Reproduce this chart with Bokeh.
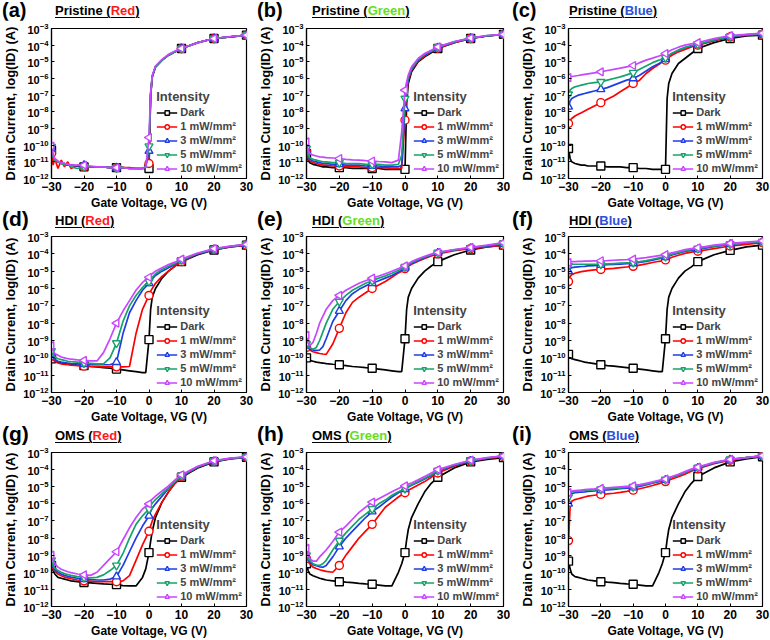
import numpy as np
from bokeh.plotting import figure
from bokeh.models import Range1d, FixedTicker, Legend, LegendItem, Div
from bokeh.layouts import column, row
from bokeh.embed import file_html
from bokeh.resources import INLINE

# ---------------- data ----------------
VG = [-30, -29.5, -29, -28, -27, -26, -25, -24,
      -22, -20, -18, -16, -14, -12, -10, -8,
      -6, -4, -2, -1, 0, 0.5, 1, 2,
      4, 6, 8, 10, 15, 20, 25, 30]
MARKER_VG = [-30, -20, -10, 0, 10, 20, 30]
X_TICKS = [-30, -20, -10, 0, 10, 20, 30]
Y_TICK_EXP = [-12, -11, -10, -9, -8, -7, -6, -5, -4, -3]
SERIES_LABELS = ["Dark", "1 mW/mm²", "3 mW/mm²", "5 mW/mm²", "10 mW/mm²"]

# log10 of drain current (A)
a_dark = [-10.3, -10.7, -10.9, -11.0, -11.1, -11.1, -11.2, -11.2,
          -11.25, -11.3, -11.3, -11.3, -11.3, -11.35, -11.35, -11.35,
          -11.4, -11.4, -11.4, -11.4, -11.4, -7.0, -5.9, -5.3,
          -4.9, -4.6, -4.4, -4.2, -3.85, -3.6, -3.5, -3.4]
a_1 = [-10.5, -11.2, -10.8, -11.4, -10.9, -11.3, -11.0, -11.4,
       -11.2, -11.3, -11.3, -11.3, -11.3, -11.35, -11.35, -11.35,
       -11.35, -11.4, -11.4, -11.3, -11.1, -7.0, -5.9, -5.3,
       -4.9, -4.6, -4.4, -4.2, -3.85, -3.6, -3.5, -3.4]
a_3 = [-10.2, -10.7, -10.9, -11.0, -11.1, -11.1, -11.2, -11.2,
       -11.25, -11.2, -11.3, -11.3, -11.3, -11.35, -11.35, -11.35,
       -11.4, -11.4, -11.4, -11.3, -10.35, -7.0, -5.9, -5.3,
       -4.9, -4.6, -4.4, -4.2, -3.85, -3.6, -3.5, -3.4]
a_5 = [-10.1, -10.7, -10.9, -11.0, -11.1, -11.2, -11.1, -11.3,
       -11.4, -11.3, -11.3, -11.3, -11.3, -11.35, -11.35, -11.35,
       -11.4, -11.4, -11.4, -11.3, -10.06, -6.9, -5.85, -5.3,
       -4.9, -4.6, -4.4, -4.2, -3.85, -3.6, -3.5, -3.4]
a_10 = [-10.06, -10.6, -10.8, -10.95, -11.05, -11.1, -11.15, -11.2,
        -11.2, -11.2, -11.25, -11.3, -11.3, -11.35, -11.35, -11.35,
        -11.4, -11.4, -11.4, -11.3, -9.54, -6.8, -5.8, -5.25,
        -4.85, -4.55, -4.35, -4.2, -3.85, -3.6, -3.48, -3.4]

b_dark = [-10.5, -10.9, -11.05, -11.15, -11.2, -11.25, -11.3, -11.3,
          -11.35, -11.35, -11.35, -11.4, -11.4, -11.4, -11.4, -11.4,
          -11.45, -11.45, -11.45, -11.45, -11.45, -7.5, -6.3, -5.6,
          -5.0, -4.7, -4.45, -4.2, -3.85, -3.6, -3.45, -3.35]
b_1 = [-10.4, -10.8, -10.95, -11.05, -11.1, -11.15, -11.2, -11.2,
       -11.25, -11.25, -11.3, -11.3, -11.3, -11.35, -11.35, -11.35,
       -11.35, -11.4, -11.4, -11.4, -8.5, -7.0, -6.1, -5.5,
       -4.95, -4.65, -4.4, -4.18, -3.85, -3.6, -3.45, -3.35]
b_3 = [-10.3, -10.7, -10.85, -10.95, -11.0, -11.05, -11.1, -11.1,
       -11.15, -11.15, -11.2, -11.2, -11.2, -11.25, -11.25, -11.25,
       -11.3, -11.3, -11.3, -11.2, -7.8, -6.8, -6.0, -5.45,
       -4.9, -4.6, -4.38, -4.15, -3.82, -3.58, -3.45, -3.35]
b_5 = [-10.2, -10.6, -10.75, -10.85, -10.9, -10.95, -11.0, -11.0,
       -11.05, -11.05, -11.1, -11.1, -11.1, -11.15, -11.15, -11.15,
       -11.2, -11.2, -11.15, -10.6, -7.2, -6.5, -5.9, -5.4,
       -4.85, -4.55, -4.35, -4.12, -3.8, -3.58, -3.43, -3.35]
b_10 = [-9.8, -10.3, -10.5, -10.6, -10.65, -10.7, -10.72, -10.75,
        -10.77, -10.8, -10.85, -10.88, -10.9, -10.93, -10.95, -10.98,
        -11.0, -11.05, -10.9, -9.2, -6.7, -6.2, -5.8, -5.3,
        -4.8, -4.5, -4.3, -4.1, -3.78, -3.57, -3.42, -3.35]

c_dark = [-10.2, -10.8, -11.0, -11.1, -11.15, -11.2, -11.2, -11.25,
          -11.25, -11.25, -11.3, -11.3, -11.3, -11.35, -11.35, -11.4,
          -11.4, -11.45, -11.45, -11.45, -11.45, -7.2, -6.3, -5.7,
          -5.1, -4.8, -4.5, -4.2, -3.85, -3.6, -3.45, -3.4]
c_1 = [-8.7, -8.5, -8.4, -8.25, -8.15, -8.05, -7.95, -7.85,
       -7.65, -7.45, -7.25, -7.05, -6.8, -6.55, -6.3, -6.1,
       -5.7, -5.4, -5.15, -5.0, -4.9, -4.8, -4.72, -4.6,
       -4.4, -4.25, -4.1, -4.0, -3.75, -3.5, -3.4, -3.35]
c_3 = [-7.7, -7.35, -7.2, -7.1, -7.0, -6.95, -6.9, -6.85,
       -6.75, -6.65, -6.55, -6.4, -6.25, -6.1, -6.0, -5.8,
       -5.55, -5.3, -5.1, -4.98, -4.85, -4.75, -4.65, -4.5,
       -4.3, -4.15, -4.05, -3.98, -3.7, -3.5, -3.38, -3.33]
c_5 = [-6.95, -6.7, -6.6, -6.5, -6.45, -6.4, -6.35, -6.3,
       -6.25, -6.2, -6.1, -6.0, -5.9, -5.78, -5.65, -5.45,
       -5.25, -5.05, -4.9, -4.82, -4.75, -4.68, -4.6, -4.48,
       -4.3, -4.15, -4.02, -3.95, -3.68, -3.48, -3.37, -3.32]
c_10 = [-5.95, -5.9, -5.88, -5.85, -5.82, -5.78, -5.75, -5.72,
        -5.66, -5.6, -5.52, -5.45, -5.38, -5.3, -5.22, -5.05,
        -4.9, -4.78, -4.65, -4.58, -4.5, -4.44, -4.38, -4.28,
        -4.12, -4.0, -3.92, -3.85, -3.6, -3.43, -3.35, -3.28]

d_dark = [-10.06, -10.15, -10.2, -10.25, -10.3, -10.33, -10.36, -10.38,
          -10.42, -10.45, -10.5, -10.53, -10.57, -10.6, -10.65, -10.7,
          -10.75, -10.8, -10.85, -10.85, -8.95, -7.2, -6.5, -6.0,
          -5.4, -5.0, -4.7, -4.45, -4.05, -3.78, -3.6, -3.5]
d_1 = [-9.9, -10.1, -10.2, -10.3, -10.35, -10.38, -10.4, -10.42,
       -10.45, -10.48, -10.5, -10.5, -10.52, -10.52, -10.52, -10.52,
       -10.5, -8.6, -7.2, -6.8, -6.4, -6.15, -6.0, -5.7,
       -5.3, -5.0, -4.7, -4.45, -4.0, -3.75, -3.6, -3.5]
d_3 = [-9.8, -10.0, -10.1, -10.2, -10.25, -10.28, -10.3, -10.33,
       -10.35, -10.37, -10.4, -10.4, -10.4, -10.4, -10.25, -8.6,
       -7.4, -6.7, -6.1, -5.9, -5.7, -5.55, -5.45, -5.25,
       -5.0, -4.8, -4.6, -4.4, -4.0, -3.75, -3.58, -3.45]
d_5 = [-9.6, -9.85, -9.95, -10.05, -10.1, -10.15, -10.2, -10.22,
       -10.25, -10.3, -10.32, -10.35, -10.35, -10.0, -9.15, -7.9,
       -7.0, -6.4, -5.95, -5.75, -5.6, -5.45, -5.35, -5.15,
       -4.9, -4.72, -4.55, -4.35, -3.98, -3.73, -3.57, -3.45]
d_10 = [-9.3, -9.6, -9.75, -9.85, -9.95, -10.0, -10.05, -10.08,
        -10.12, -10.15, -10.18, -10.18, -9.7, -8.9, -8.0, -7.3,
        -6.7, -6.1, -5.65, -5.5, -5.35, -5.25, -5.15, -5.0,
        -4.8, -4.62, -4.48, -4.3, -3.95, -3.7, -3.55, -3.45]

e_dark = [-10.0, -10.1, -10.15, -10.2, -10.25, -10.28, -10.3, -10.33,
          -10.37, -10.4, -10.45, -10.5, -10.53, -10.57, -10.6, -10.65,
          -10.7, -10.75, -10.8, -10.8, -8.9, -7.2, -6.5, -6.0,
          -5.4, -5.0, -4.7, -4.45, -4.05, -3.78, -3.6, -3.5]
e_1 = [-9.4, -9.5, -9.55, -9.65, -9.7, -9.75, -9.78, -9.8,
       -9.2, -8.3, -7.4, -6.8, -6.5, -6.25, -6.0, -5.8,
       -5.6, -5.35, -5.1, -5.0, -4.85, -4.78, -4.72, -4.6,
       -4.42, -4.27, -4.12, -4.0, -3.82, -3.7, -3.6, -3.5]
e_3 = [-9.3, -9.45, -9.5, -9.55, -9.57, -9.55, -9.35, -8.9,
       -7.9, -7.3, -6.7, -6.3, -6.05, -5.85, -5.7, -5.55,
       -5.4, -5.25, -5.05, -4.95, -4.8, -4.73, -4.67, -4.55,
       -4.38, -4.22, -4.08, -3.95, -3.78, -3.67, -3.55, -3.45]
e_5 = [-9.2, -9.35, -9.42, -9.5, -9.4, -9.0, -8.5, -8.0,
       -7.2, -6.75, -6.4, -6.1, -5.9, -5.7, -5.55, -5.4,
       -5.27, -5.12, -4.95, -4.85, -4.75, -4.68, -4.62, -4.5,
       -4.33, -4.18, -4.05, -3.93, -3.77, -3.65, -3.52, -3.4]
e_10 = [-8.7, -9.15, -9.3, -9.1, -8.6, -8.0, -7.6, -7.2,
        -6.7, -6.4, -6.1, -5.9, -5.7, -5.55, -5.4, -5.28,
        -5.15, -5.0, -4.85, -4.77, -4.7, -4.63, -4.57, -4.45,
        -4.28, -4.14, -4.02, -3.92, -3.75, -3.63, -3.5, -3.35]

f_dark = [-9.8, -10.0, -10.05, -10.1, -10.15, -10.2, -10.25, -10.28,
          -10.33, -10.4, -10.45, -10.48, -10.52, -10.56, -10.6, -10.65,
          -10.7, -10.75, -10.8, -10.8, -8.9, -7.2, -6.5, -6.0,
          -5.4, -5.0, -4.75, -4.45, -4.05, -3.8, -3.6, -3.5]
f_1 = [-5.6, -5.3, -5.2, -5.12, -5.07, -5.03, -5.0, -4.97,
       -4.93, -4.9, -4.87, -4.84, -4.8, -4.76, -4.72, -4.65,
       -4.58, -4.5, -4.43, -4.4, -4.35, -4.32, -4.28, -4.2,
       -4.08, -3.97, -3.9, -3.85, -3.7, -3.55, -3.45, -3.35]
f_3 = [-5.0, -4.85, -4.8, -4.77, -4.75, -4.73, -4.72, -4.7,
       -4.68, -4.65, -4.63, -4.61, -4.59, -4.57, -4.55, -4.5,
       -4.44, -4.36, -4.28, -4.24, -4.2, -4.17, -4.13, -4.07,
       -3.96, -3.86, -3.8, -3.75, -3.58, -3.45, -3.37, -3.3]
f_5 = [-4.7, -4.62, -4.6, -4.6, -4.6, -4.6, -4.6, -4.6,
       -4.6, -4.6, -4.58, -4.56, -4.54, -4.52, -4.5, -4.45,
       -4.39, -4.31, -4.23, -4.19, -4.15, -4.12, -4.08, -4.02,
       -3.92, -3.82, -3.75, -3.7, -3.55, -3.44, -3.36, -3.3]
f_10 = [-4.5, -4.46, -4.45, -4.45, -4.44, -4.43, -4.42, -4.42,
        -4.41, -4.4, -4.39, -4.37, -4.35, -4.33, -4.3, -4.26,
        -4.22, -4.16, -4.1, -4.07, -4.05, -4.02, -3.99, -3.94,
        -3.85, -3.76, -3.7, -3.65, -3.5, -3.4, -3.32, -3.25]

g_dark = [-9.6, -9.9, -10.1, -10.3, -10.35, -10.4, -10.45, -10.5,
          -10.55, -10.6, -10.62, -10.65, -10.68, -10.7, -10.72, -10.78,
          -10.8, -10.8, -10.3, -9.8, -8.85, -8.2, -7.6, -6.8,
          -5.9, -5.3, -4.8, -4.45, -3.9, -3.55, -3.38, -3.28]
g_1 = [-9.5, -9.8, -9.95, -10.1, -10.2, -10.28, -10.33, -10.38,
       -10.45, -10.5, -10.52, -10.55, -10.55, -10.55, -10.55, -10.5,
       -10.2, -9.3, -8.4, -8.0, -7.6, -7.3, -7.0, -6.6,
       -5.9, -5.3, -4.8, -4.4, -3.87, -3.52, -3.36, -3.27]
g_3 = [-9.4, -9.7, -9.85, -10.0, -10.1, -10.18, -10.23, -10.28,
       -10.35, -10.4, -10.42, -10.45, -10.45, -10.4, -10.25, -9.6,
       -8.8, -8.0, -7.3, -7.0, -6.7, -6.45, -6.25, -6.0,
       -5.55, -5.1, -4.75, -4.4, -3.85, -3.52, -3.35, -3.27]
g_5 = [-9.3, -9.6, -9.75, -9.9, -10.0, -10.08, -10.13, -10.18,
       -10.25, -10.3, -10.32, -10.3, -10.15, -9.9, -9.6, -8.9,
       -8.0, -7.2, -6.7, -6.5, -6.3, -6.12, -5.95, -5.75,
       -5.4, -5.05, -4.7, -4.35, -3.83, -3.5, -3.34, -3.26]
g_10 = [-9.0, -9.35, -9.5, -9.7, -9.82, -9.9, -9.97, -10.02,
        -10.1, -10.15, -10.18, -10.0, -9.6, -9.2, -8.8, -8.1,
        -7.4, -6.8, -6.3, -6.15, -6.0, -5.85, -5.72, -5.55,
        -5.25, -4.95, -4.6, -4.3, -3.8, -3.48, -3.33, -3.25]

h_dark = [-9.5, -9.9, -10.1, -10.2, -10.28, -10.35, -10.4, -10.45,
          -10.5, -10.55, -10.58, -10.6, -10.65, -10.68, -10.7, -10.75,
          -10.8, -10.8, -10.0, -9.5, -8.85, -8.1, -7.5, -6.8,
          -6.0, -5.3, -4.8, -4.45, -3.9, -3.55, -3.4, -3.3]
h_1 = [-9.2, -9.4, -9.5, -9.7, -9.78, -9.85, -9.9, -9.95,
       -10.0, -9.6, -9.0, -8.5, -8.0, -7.6, -7.2, -6.7,
       -6.2, -5.9, -5.6, -5.47, -5.35, -5.28, -5.2, -5.1,
       -4.9, -4.7, -4.45, -4.2, -3.8, -3.5, -3.35, -3.25]
h_3 = [-9.1, -9.3, -9.4, -9.55, -9.62, -9.68, -9.7, -9.6,
       -9.1, -8.5, -8.0, -7.6, -7.2, -6.8, -6.45, -6.2,
       -5.9, -5.6, -5.35, -5.25, -5.15, -5.08, -5.02, -4.92,
       -4.74, -4.55, -4.35, -4.1, -3.75, -3.5, -3.33, -3.2]
h_5 = [-9.0, -9.2, -9.3, -9.5, -9.58, -9.6, -9.5, -9.3,
       -8.7, -8.15, -7.7, -7.3, -6.9, -6.6, -6.3, -6.0,
       -5.78, -5.5, -5.3, -5.2, -5.1, -5.03, -4.97, -4.88,
       -4.7, -4.5, -4.3, -4.05, -3.72, -3.47, -3.32, -3.2]
h_10 = [-8.6, -9.0, -9.2, -9.35, -9.35, -9.1, -8.9, -8.7,
        -8.2, -7.65, -7.3, -6.9, -6.5, -6.2, -5.9, -5.7,
        -5.5, -5.3, -5.1, -5.02, -4.95, -4.9, -4.85, -4.78,
        -4.6, -4.4, -4.2, -4.0, -3.7, -3.45, -3.3, -3.2]

i_dark = [-9.35, -9.8, -10.1, -10.25, -10.3, -10.35, -10.4, -10.45,
          -10.5, -10.55, -10.58, -10.6, -10.65, -10.68, -10.7, -10.75,
          -10.8, -10.8, -10.0, -9.5, -8.85, -8.1, -7.5, -6.8,
          -6.0, -5.3, -4.8, -4.4, -3.9, -3.55, -3.38, -3.25]
i_1 = [-8.15, -6.2, -5.85, -5.75, -5.7, -5.65, -5.6, -5.55,
       -5.5, -5.45, -5.42, -5.38, -5.33, -5.27, -5.2, -5.12,
       -5.03, -4.93, -4.82, -4.76, -4.7, -4.66, -4.62, -4.55,
       -4.42, -4.27, -4.1, -3.95, -3.65, -3.45, -3.3, -3.2]
i_3 = [-6.0, -5.5, -5.4, -5.35, -5.33, -5.31, -5.3, -5.28,
       -5.25, -5.2, -5.18, -5.15, -5.12, -5.08, -5.05, -4.98,
       -4.9, -4.8, -4.7, -4.65, -4.6, -4.56, -4.52, -4.45,
       -4.32, -4.17, -4.02, -3.9, -3.62, -3.42, -3.3, -3.2]
i_5 = [-5.6, -5.35, -5.3, -5.28, -5.26, -5.24, -5.22, -5.2,
       -5.18, -5.15, -5.12, -5.1, -5.07, -5.03, -5.0, -4.93,
       -4.85, -4.76, -4.66, -4.62, -4.58, -4.54, -4.5, -4.43,
       -4.3, -4.15, -4.0, -3.87, -3.6, -3.4, -3.3, -3.2]
i_10 = [-5.35, -5.25, -5.25, -5.23, -5.21, -5.19, -5.17, -5.15,
        -5.13, -5.1, -5.07, -5.04, -5.01, -4.98, -4.95, -4.88,
        -4.8, -4.72, -4.62, -4.58, -4.55, -4.51, -4.47, -4.4,
        -4.27, -4.12, -3.97, -3.85, -3.58, -3.4, -3.3, -3.18]

PANELS = [
    ("(a)", "Pristine", "Red", [a_dark, a_1, a_3, a_5, a_10]),
    ("(b)", "Pristine", "Green", [b_dark, b_1, b_3, b_5, b_10]),
    ("(c)", "Pristine", "Blue", [c_dark, c_1, c_3, c_5, c_10]),
    ("(d)", "HDI", "Red", [d_dark, d_1, d_3, d_5, d_10]),
    ("(e)", "HDI", "Green", [e_dark, e_1, e_3, e_5, e_10]),
    ("(f)", "HDI", "Blue", [f_dark, f_1, f_3, f_5, f_10]),
    ("(g)", "OMS", "Red", [g_dark, g_1, g_3, g_5, g_10]),
    ("(h)", "OMS", "Green", [h_dark, h_1, h_3, h_5, h_10]),
    ("(i)", "OMS", "Blue", [i_dark, i_1, i_3, i_5, i_10]),
]

# ---------------- style / layout ----------------
FONT = "Liberation Sans"
SERIES_COLORS = ["#000000", "#ff0000", "#1f3de6", "#15a36b", "#c846ff"]
SERIES_MARKERS = ["square", "circle", "triangle", "inverted_triangle", "triangle"]
SERIES_ANGLES = [0, 0, 0, 0, np.pi / 2]
LIGHT_COLORS = {"Red": "#ff1a1a", "Green": "#66dd22", "Blue": "#2f4fd8"}

# per column: width, border left, border right, title x
COLS = [(255, 50, 9, 55), (255, 51, 7, 57), (260, 58, 8, 59)]
# per row: header height, plot height, border top, border bottom, letter top
ROWS = [(20, 192, 8, 30, 0), (18, 196, 6, 32, -4), (19, 195, 7, 32, -3)]


def make_header(W, hh, letter_top, letter, material, light, tx):
    lsize = 20 if letter_top >= 0 else 21
    html = (
        f'<div style="position:relative;width:{W}px;height:{hh}px;'
        f"font-family:'{FONT}',Arial,sans-serif;font-weight:bold;color:black;\">"
        f'<span style="position:absolute;left:2px;top:{letter_top}px;font-size:{lsize}px;'
        f'line-height:{lsize}px;white-space:nowrap;">{letter}</span>'
        f'<span style="position:absolute;left:{tx}px;top:{hh - 16}px;font-size:13px;'
        f'line-height:13px;white-space:nowrap;text-decoration:underline;'
        f'text-decoration-thickness:1.2px;text-underline-offset:1.5px;">'
        f'{material} (<span style="color:{LIGHT_COLORS[light]};">{light}</span>)</span>'
        f'</div>'
    )
    return Div(text=html, width=W, height=hh, margin=0)


def make_panel(idx, letter, material, light, curves):
    r, c = divmod(idx, 3)
    W, bl, br, tx = COLS[c]
    hh, H, bt, bb, ltop = ROWS[r]
    p = figure(width=W, height=H, y_axis_type="log",
               x_range=Range1d(-30, 30), y_range=Range1d(1e-12, 1e-3),
               output_backend="svg", toolbar_location=None, title=None,
               min_border_left=bl, min_border_right=br,
               min_border_top=bt, min_border_bottom=bb)
    p.grid.visible = False
    p.outline_line_color = "black"
    p.outline_line_width = 1.2

    p.xaxis.ticker = FixedTicker(ticks=X_TICKS)
    p.yaxis.ticker = FixedTicker(ticks=[10.0 ** e for e in Y_TICK_EXP], minor_ticks=[])
    for ax in (p.xaxis[0], p.yaxis[0]):
        ax.axis_line_width = 1.2
        ax.major_tick_out = 0
        ax.major_tick_in = 3
        ax.minor_tick_line_color = None
        ax.major_label_text_font = FONT
        ax.major_label_text_font_style = "bold"
        ax.major_label_text_color = "black"
        ax.major_label_standoff = 3
        ax.axis_label_text_font = FONT
        ax.axis_label_text_font_style = "bold"
        ax.axis_label_text_color = "black"
        ax.axis_label_standoff = 2
    p.xaxis.major_label_text_font_size = "12px"
    p.yaxis.major_label_text_font_size = "11px"
    p.xaxis.axis_label_text_font_size = "12px"
    p.yaxis.axis_label_text_font_size = "13px"
    p.xaxis.axis_label = "Gate Voltage, VG (V)"
    p.yaxis.axis_label = "Drain Current, log(ID) (A)"

    items = []
    mask = [v in MARKER_VG for v in VG]
    for k, ys in enumerate(curves):
        if len(ys) != len(VG):
            raise ValueError(f"{letter} series {k}: {len(ys)} values")
        cur = [10.0 ** v for v in ys]
        col = SERIES_COLORS[k]
        ln = p.line(VG, cur, line_color=col, line_width=1.7)
        mx = [x for x, m in zip(VG, mask) if m]
        my = [y for y, m in zip(cur, mask) if m]
        sc = p.scatter(mx, my, marker=SERIES_MARKERS[k], size=8, angle=SERIES_ANGLES[k],
                       line_color=col, line_width=1.4, fill_color="white")
        items.append(LegendItem(label=SERIES_LABELS[k], renderers=[ln, sc]))

    leg = Legend(items=items, location="bottom_right", title="Intensity",
                 title_text_font=FONT, title_text_font_style="bold",
                 title_text_font_size="13px", title_standoff=2,
                 label_text_font=FONT, label_text_font_style="bold",
                 label_text_font_size="11px", label_height=11, glyph_height=11,
                 glyph_width=21, label_standoff=3, spacing=2, padding=0, margin=4,
                 border_line_color=None, background_fill_alpha=0)
    p.add_layout(leg)

    header = make_header(W, hh, ltop, letter, material, light, tx)
    return column(header, p, spacing=0)


cells = [make_panel(i, *pan) for i, pan in enumerate(PANELS)]
layout = column(row(cells[0:3], spacing=0), row(cells[3:6], spacing=0),
                row(cells[6:9], spacing=0), spacing=0)

open("out.html", "w").write(file_html(layout, INLINE, title="Transfer curves"))
